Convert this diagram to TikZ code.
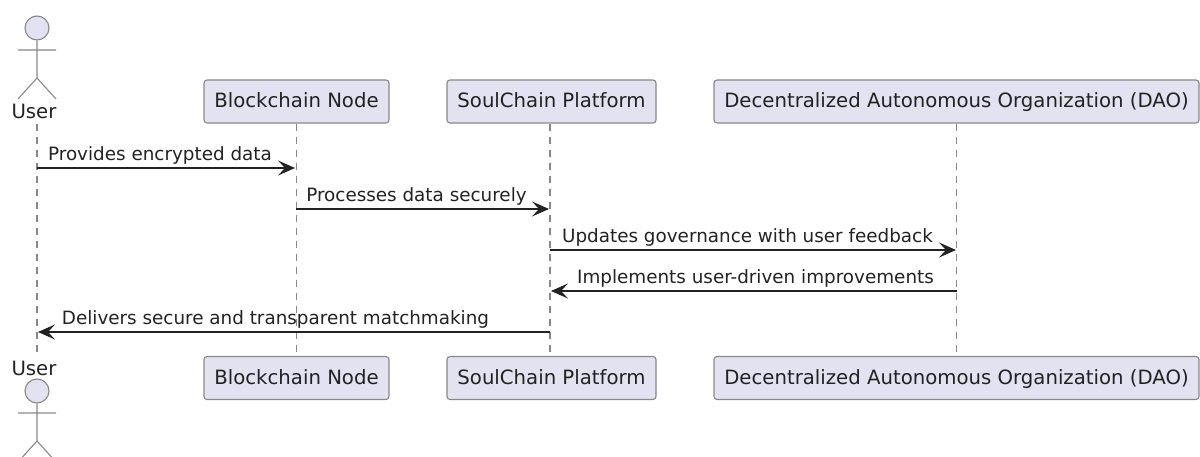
\documentclass[tikz,border=0pt]{standalone}
\usepackage{fontspec}
\setmainfont{DejaVu Sans}
\usetikzlibrary{arrows.meta}
\definecolor{pfill}{HTML}{E2E2F0}
\definecolor{pline}{HTML}{888888}
\definecolor{ptext}{HTML}{222222}
\tikzset{
  x=1pt,y=-1pt,
  every node/.style={text=ptext},
  pbox/.style={draw=pline,fill=pfill,rounded corners=3pt,line width=1.1pt,minimum height=43pt,inner sep=0pt,anchor=center,text height=15pt,text depth=3pt,font=\fontsize{19.7}{23}\selectfont},
  lifeline/.style={draw=pline,line width=1.2pt,dash pattern=on 7pt off 6pt},
  actorline/.style={draw=pline,line width=1.1pt},
  actorname/.style={inner sep=0pt,anchor=base,font=\fontsize{19.7}{23}\selectfont},
  msg/.style={draw=ptext,line width=1.3pt,-{Stealth[length=17pt,width=15pt,inset=7pt]},shorten >=1pt},
  msglabel/.style={inner sep=0pt,anchor=base,font=\fontsize{18.35}{22}\selectfont}
}
\begin{document}
\begin{tikzpicture}
\useasboundingbox (0,0) rectangle (1200,457);
% participants
\node[pbox,minimum width=185pt] (bt) at (296.5,101.5) {Blockchain Node};
\node[pbox,minimum width=209pt] (st) at (551.5,101.5) {SoulChain Platform};
\node[pbox,minimum width=485pt] (dt) at (956.5,101.5) {Decentralized Autonomous Organization (DAO)};
\node[pbox,minimum width=185pt] (bb) at (296.5,378) {Blockchain Node};
\node[pbox,minimum width=209pt] (sb) at (551.5,378) {SoulChain Platform};
\node[pbox,minimum width=485pt] (db) at (956.5,378) {Decentralized Autonomous Organization (DAO)};
% actors
\node[actorname] (ut) at (34,119) {User};
\node[actorname] (ub) at (34,375) {User};
\coordinate (uta) at (37,124);
\coordinate (uba) at (37,356);
\node[circle,draw=pline,fill=pfill,line width=1.1pt,minimum size=24pt,inner sep=0pt] (hu) at (37,28) {};
\draw[actorline] (hu.south) -- (37,78) (18,50) -- (56,50) (18,99) -- (37,78) -- (56,99);
\node[circle,draw=pline,fill=pfill,line width=1.1pt,minimum size=24pt,inner sep=0pt] (hb) at (37,391) {};
\draw[actorline] (hb.south) -- (37,441) (18,413) -- (56,413) (18,462) -- (37,441) -- (56,462);
% lifelines
\draw[lifeline] (uta) -- (uba);
\draw[lifeline] (bt.south) -- (bb.north);
\draw[lifeline] (st.south -| 550,0) -- (sb.north -| 550,0);
\draw[lifeline] (dt.south) -- (db.north);
% message anchors
\coordinate (u1) at (37,168); \coordinate (b1) at (296,168);
\coordinate (b2) at (296,209); \coordinate (s2) at (550,209);
\coordinate (s3) at (550,250); \coordinate (d3) at (957,250);
\coordinate (d4) at (957,291); \coordinate (s4) at (550,291);
\coordinate (s5) at (550,332); \coordinate (u5) at (37,332);
\draw[msg] (u1) -- (b1);
\draw[msg] (b2) -- (s2);
\draw[msg] (s3) -- (d3);
\draw[msg] (d4) -- (s4);
\draw[msg] (s5) -- (u5);
\node[msglabel] (l1) at (160,160.5) {Provides encrypted data};
\node[msglabel] (l2) at (416.5,201.5) {Processes data securely};
\node[msglabel] (l3) at (747.5,242.5) {Updates governance with user feedback};
\node[msglabel] (l4) at (755.5,283.5) {Implements user-driven improvements};
\node[msglabel] (l5) at (275.5,324.5) {Delivers secure and transparent matchmaking};
\end{tikzpicture}
\end{document}
